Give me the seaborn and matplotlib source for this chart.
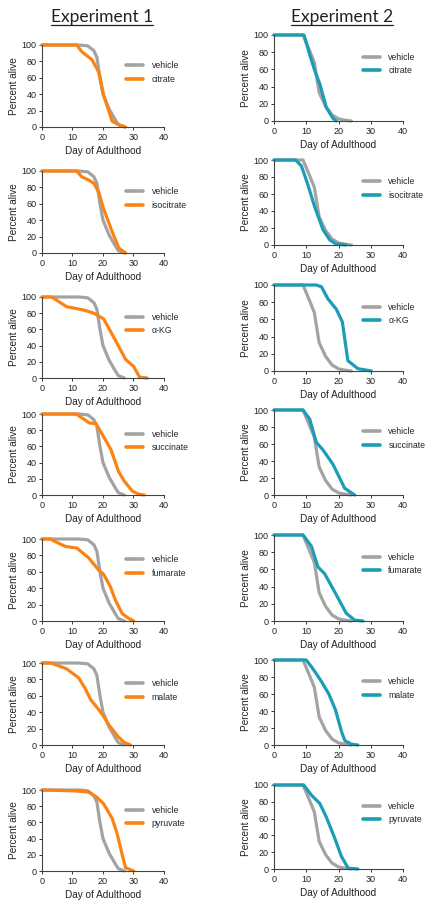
import numpy as np
import pandas as pd
import matplotlib
matplotlib.use("Agg")
import matplotlib.pyplot as plt
from matplotlib.lines import Line2D
import seaborn as sns

sns.set_style("ticks")
plt.rcParams['font.family'] = ['Liberation Sans', 'DejaVu Sans']

# ---------------- data ----------------
treatments = ["citrate", "isocitrate", "α-KG", "succinate", "fumarate", "malate", "pyruvate"]

# Experiment 1 vehicle
veh1_day = [0, 12, 15, 17, 18, 19, 20, 22, 24, 25, 27]
veh1_pct = [100, 100, 99, 93, 85, 60, 40, 22, 9, 3, 0]

# Experiment 2 vehicle
veh2_day = [0, 9, 11, 12.5, 14, 16, 18, 20, 22, 24]
veh2_pct = [100, 100, 82, 68, 33, 17, 7, 2.5, 1, 0]

# Experiment 1 treatments
citrate1_day = [0, 11.4, 13, 16.4, 18.6, 20.2, 23, 25, 27.4]
citrate1_pct = [100, 100, 92, 82, 67, 39, 7, 3, 0]
isocitrate1_day = [0, 11.4, 13, 15.3, 17, 18.6, 20.2, 23, 25.2, 27.4]
isocitrate1_pct = [100, 100, 93, 89, 85, 74, 54, 26, 6, 0]
akg1_day = [0, 3.2, 8.1, 13.6, 17, 20.2, 24, 27.4, 30.1, 32, 34.5]
akg1_pct = [100, 100, 88, 84, 80, 73, 47, 23, 14, 1, 0]
succinate1_day = [0, 11.2, 15.5, 17.7, 19.9, 22.6, 25.1, 27, 29.7, 31.8, 33.5]
succinate1_pct = [100, 100, 89, 88, 74, 56, 29, 17, 4.5, 1, 0]
fumarate1_day = [0, 2.6, 7.6, 11.4, 15.3, 18.6, 20.2, 22.4, 24, 26.3, 28.5, 30.1]
fumarate1_pct = [100, 100, 91, 89, 77, 62, 57, 42, 26, 9, 3, 0]
malate1_day = [0, 3, 8, 12, 14, 16, 18, 20, 22, 25, 27, 29]
malate1_pct = [100, 100, 93, 82, 70, 55, 46, 36, 24, 10, 3, 0]
pyruvate1_day = [0, 10.3, 15.3, 18, 20.2, 23, 24.6, 26.3, 27.4, 30.1]
pyruvate1_pct = [100, 99, 97.5, 91, 83, 65, 46.5, 20, 4, 0]

# Experiment 2 treatments
citrate2_day = [0, 9.3, 11, 12.6, 14.2, 16.2, 18.3, 19.3]
citrate2_pct = [100, 100, 78, 59, 43, 16, 3, 0]
isocitrate2_day = [0, 6.7, 8.5, 10.5, 12.6, 15.2, 17.3, 19.3, 22.4]
isocitrate2_pct = [100, 100, 93, 71, 45, 18, 6, 1, 0]
akg2_day = [0, 13.1, 14.7, 16.7, 19.3, 21.2, 22.9, 26, 30.2]
akg2_pct = [100, 100, 98, 84, 72, 57, 12, 2.7, 0]
succinate2_day = [0, 9, 11.1, 13.1, 15.2, 18.3, 21.9, 25]
succinate2_pct = [100, 100, 89, 62, 53, 36, 8, 0]
fumarate2_day = [0, 9, 11.6, 13.6, 15.7, 18.8, 22.4, 25, 27.6]
fumarate2_pct = [100, 100, 87, 63, 55, 34, 9, 1, 0]
malate2_day = [0, 10, 12, 14.5, 17, 19, 21, 22, 24, 26]
malate2_pct = [100, 100, 90, 76, 60, 42, 15, 5, 1, 0]
pyruvate2_day = [0, 9.2, 11.6, 14.2, 16.2, 18.8, 20.9, 23, 26]
pyruvate2_pct = [100, 100, 88, 78, 62, 37, 15, 1, 0]

exp1 = [(citrate1_day, citrate1_pct), (isocitrate1_day, isocitrate1_pct),
        (akg1_day, akg1_pct), (succinate1_day, succinate1_pct),
        (fumarate1_day, fumarate1_pct), (malate1_day, malate1_pct),
        (pyruvate1_day, pyruvate1_pct)]
exp2 = [(citrate2_day, citrate2_pct), (isocitrate2_day, isocitrate2_pct),
        (akg2_day, akg2_pct), (succinate2_day, succinate2_pct),
        (fumarate2_day, fumarate2_pct), (malate2_day, malate2_pct),
        (pyruvate2_day, pyruvate2_pct)]

x_ticks = [0, 10, 20, 30, 40]
y_ticks = [0, 20, 40, 60, 80, 100]

GRAY = "#a3a3a3"
ORANGE = "#fb8313"
TEAL = "#1a9db5"

# ---------------- layout (pixels) ----------------
W, H = 427, 905
fig = plt.figure(figsize=(W / 100, H / 100), dpi=100)

col1_rows = [(45, 127), (171, 253), (297, 378), (414, 495), (539, 621), (663, 745), (790, 871)]
col2_rows = [(35, 121), (160, 245), (285, 371), (410, 495), (535, 621), (660, 745), (785, 869)]
col1_x = (42, 164)
col2_x = (274, 403)


def make_ax(xr, yr):
    l, r = xr
    t, b = yr
    return fig.add_axes([l / W, 1 - b / H, (r - l) / W, (b - t) / H])


def draw_panel(ax, veh_day, veh_pct, tr_day, tr_pct, name, color):
    df = pd.concat([
        pd.DataFrame({"day": veh_day, "pct": veh_pct, "group": "vehicle"}),
        pd.DataFrame({"day": tr_day, "pct": tr_pct, "group": name}),
    ], ignore_index=True)
    sns.lineplot(data=df, x="day", y="pct", hue="group",
                 palette={"vehicle": GRAY, name: color},
                 estimator=None, sort=False, linewidth=2.3, ax=ax,
                 legend=False, clip_on=False)
    ax.set_xlim(0, 40)
    ax.set_ylim(0, 100)
    ax.set_xticks(x_ticks)
    ax.set_yticks(y_ticks)
    ax.tick_params(axis="both", labelsize=6.5, length=2.5, width=0.7,
                   pad=1.5, colors="#333333", labelcolor="#222222")
    for s in ["top", "right"]:
        ax.spines[s].set_visible(False)
    for s in ["left", "bottom"]:
        ax.spines[s].set_linewidth(0.8)
        ax.spines[s].set_color("#444444")
    ax.set_xlabel("Day of Adulthood", fontsize=7.2, color="#222222", labelpad=3.5)
    ax.set_ylabel("Percent alive", fontsize=7.2, color="#222222", labelpad=2)
    handles = [Line2D([], [], color=GRAY, lw=2.6), Line2D([], [], color=color, lw=2.6)]
    ax.legend(handles, ["vehicle", name], loc="center left",
              bbox_to_anchor=(0.69, 0.665), frameon=False, fontsize=6.3,
              handlelength=1.9, handletextpad=1.0, labelspacing=0.5,
              borderpad=0, borderaxespad=0)


for i, name in enumerate(treatments):
    ax1 = make_ax(col1_x, col1_rows[i])
    draw_panel(ax1, veh1_day, veh1_pct, exp1[i][0], exp1[i][1], name, ORANGE)
    ax2 = make_ax(col2_x, col2_rows[i])
    draw_panel(ax2, veh2_day, veh2_pct, exp2[i][0], exp2[i][1], name, TEAL)

# titles with underline
for txt, cx in [("Experiment 1", 102), ("Experiment 2", 342)]:
    t = fig.text(cx / W, 1 - 17 / H, txt, ha="center", va="center",
                 fontsize=12.5, family=["Lato", "DejaVu Sans"], color="#222222")
    fig.canvas.draw()
    bb = t.get_window_extent()
    fig.add_artist(Line2D([bb.x0 / W, bb.x1 / W], [1 - 25 / H, 1 - 25 / H],
                          transform=fig.transFigure, color="#222222", lw=0.9))

fig.savefig("out.png", dpi=100)
